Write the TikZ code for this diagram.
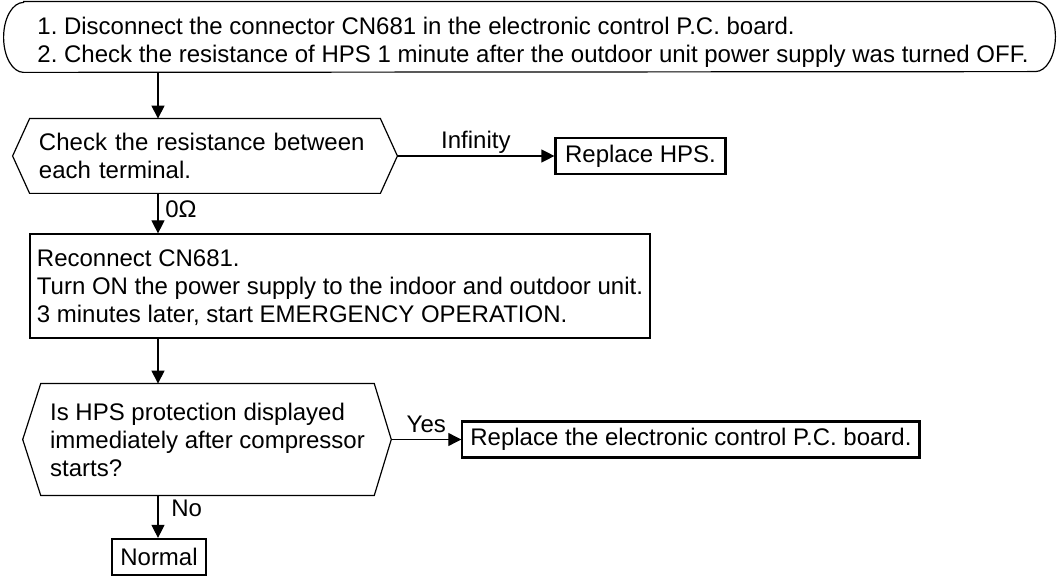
\documentclass[tikz,border=0pt]{standalone}
\usepackage{fontspec}
\setmainfont{Liberation Sans}
\usetikzlibrary{arrows.meta,positioning}
\frenchspacing

\begin{document}
\begin{tikzpicture}[x=0.5pt, y=-0.5pt, font=\fontsize{12}{14}\selectfont]
        \tikzset{
            note/.style={
                align=left,
                minimum width=525.5pt,
                minimum height=35pt,
                inner sep=0pt,
                text depth=0pt
            },
            decision/.style={
                align=left,
                inner xsep=4.5pt,
                inner ysep=0pt
            },
            process/.style={
                draw,
                line width=0.6pt,
                align=left,
                minimum width=310pt,
                minimum height=52pt,
                text depth=0pt
            },
            result/.style={
                draw,
                line width=1.1pt,
                minimum height=18pt,
                inner xsep=4pt,
                inner ysep=0pt
            },
            edgetag/.style={text depth=0pt},
            outline/.style={line width=0.6pt},
            arrow/.style={-{Triangle[length=6.5pt, width=6.5pt]}, line width=0.6pt}
        }
        \useasboundingbox (0,0) rectangle (1058,576);
        \coordinate (spine) at (158,0);

        \node[note] (start) at (529.5, 37) {};
        \node[align=left, text depth=0pt] (starttext) at (533, 40)
            {1. Disconnect the connector CN681 in the electronic control P.C. board.\\
             2. Check the resistance of HPS 1 minute after the outdoor unit power supply was turned OFF.};
        \draw[outline]
            ([xshift=10pt]start.north west) -- ([xshift=-10pt]start.north east)
            arc[start angle=90, end angle=-90, x radius=10pt, y radius=17.5pt]
            -- ([xshift=10pt]start.south west)
            arc[start angle=270, end angle=90, x radius=10pt, y radius=17.5pt] -- cycle;

        \node[decision, text width=166pt, minimum height=37pt] (check) at (205, 156)
            {Check the resistance between\\each terminal.};
        \coordinate (check-tip) at ([xshift=8.5pt]check.east);
        \draw[outline] (check.north west) -- (check.north east) -- (check-tip)
            -- (check.south east) -- (check.south west) -- ([xshift=-8.5pt]check.west) -- cycle;

        \node[result, minimum width=85pt, right=78.5pt of check-tip] (hps) {Replace HPS.};

        \node[process] (reconnect) at (340, 286)
            {Reconnect CN681.\\
             Turn ON the power supply to the indoor and outdoor unit.\\
             3 minutes later, start EMERGENCY OPERATION.};

        \node[decision, minimum width=165.5pt, minimum height=55.5pt] (protect) at (207.5, 439.5)
            {Is HPS protection displayed\\immediately after compressor\\starts?};
        \coordinate (protect-tip) at ([xshift=8.5pt]protect.east);
        \draw[outline] (protect.north west) -- (protect.north east) -- (protect-tip)
            -- (protect.south east) -- (protect.south west) -- ([xshift=-9pt]protect.west) -- cycle;

        \node[result, right=35pt of protect-tip] (board)
            {Replace the electronic control P.C. board.};
        \node[result, minimum width=47pt] (normal) at (159, 557) {Normal};

        \draw[arrow] (start.south -| spine) -- (check.north -| spine);
        \draw[arrow] (check-tip) -- node[edgetag, above] {Infinity} (hps.west);
        \draw[arrow] (check.south -| spine)
            -- node[edgetag, pos=0.4, right] {0Ω} (reconnect.north -| spine);
        \draw[arrow] (reconnect.south -| spine) -- (protect.north -| spine);
        \draw[arrow] (protect-tip) -- node[edgetag, above] {Yes} (board.west);
        \draw[arrow] (protect.south -| spine)
            -- node[edgetag, pos=0.3, right, xshift=3pt] {No} (normal.north -| spine);
    \end{tikzpicture}
\end{document}
